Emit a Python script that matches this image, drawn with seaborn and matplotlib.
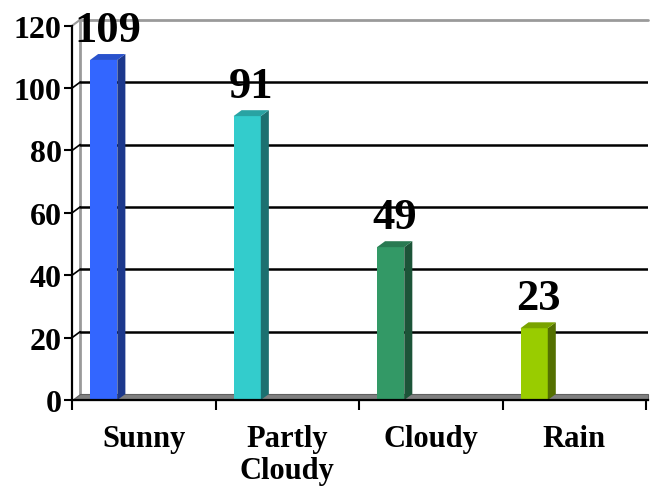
import matplotlib
matplotlib.use("Agg")
import matplotlib.pyplot as plt
import seaborn as sns
import pandas as pd
from matplotlib.patches import Polygon
from matplotlib.colors import to_rgb

# ===== DATA =====
CATEGORIES = ["Sunny", "Partly\nCloudy", "Cloudy", "Rain"]
COUNTS = [109, 91, 49, 23]
COLORS = ["#3366FF", "#33CCCC", "#339966", "#99CC00"]
Y_TICKS = [0, 20, 40, 60, 80, 100, 120]

# ===== 3D LOOK SETTINGS =====
DEPTH_X = 0.056   # depth offset in category units
DEPTH_Y = 1.9     # depth offset in value units
BAR_SHIFT = -0.28 # bars sit in the left part of each category
XMAX = 3.514


def shade(color, f):
    r, g, b = to_rgb(color)
    return (r * f, g * f, b * f)


sns.set_style("white")
plt.rcParams["font.family"] = ["Liberation Serif", "DejaVu Serif"]
plt.rcParams["font.weight"] = "bold"
plt.rcParams["text.color"] = "black"
plt.rcParams["xtick.color"] = "black"
plt.rcParams["ytick.color"] = "black"
plt.rcParams["xtick.labelcolor"] = "black"
plt.rcParams["ytick.labelcolor"] = "black"

fig = plt.figure(figsize=(6.5, 4.89), dpi=100)
ax = fig.add_axes([0.111, 0.18, 0.886, 0.791])

df = pd.DataFrame({"weather": CATEGORIES, "days": COUNTS})
sns.barplot(data=df, x="weather", y="days", hue="weather", palette=COLORS,
            width=0.19, saturation=1, legend=False, ax=ax, zorder=4)

ax.set_xlim(-0.5, XMAX)
ax.set_ylim(0, 124)

# floor
x_back = -0.5 + DEPTH_X
ax.add_patch(Polygon([(-0.5, 0), (XMAX, 0), (XMAX, DEPTH_Y), (x_back, DEPTH_Y)],
                     closed=True, facecolor="#808080", edgecolor="#606060",
                     lw=0.8, zorder=2, clip_on=False))

# back wall + gridlines
ax.plot([x_back, x_back], [DEPTH_Y, Y_TICKS[-1] + DEPTH_Y], color="#9a9a9a", lw=2, zorder=1)
ax.plot([x_back, XMAX], [Y_TICKS[-1] + DEPTH_Y] * 2, color="#9a9a9a", lw=2, zorder=1, clip_on=False)
ax.plot([-0.5, x_back], [Y_TICKS[-1], Y_TICKS[-1] + DEPTH_Y], color="#9a9a9a", lw=1.5, zorder=1)
for v in Y_TICKS[1:-1]:
    ax.plot([x_back, XMAX], [v + DEPTH_Y] * 2, color="black", lw=1.8, zorder=1)
    ax.plot([-0.5, x_back], [v, v + DEPTH_Y], color="black", lw=1.2, zorder=1)

# bars with side and top faces + value labels
for cont, color, val in zip(ax.containers, COLORS, COUNTS):
    for bar in cont:
        bar.set_x(bar.get_x() + BAR_SHIFT)
        bar.set_edgecolor("none")
        x0 = bar.get_x()
        x1 = x0 + bar.get_width()
        h = bar.get_height()
        ax.add_patch(Polygon([(x1, 0), (x1 + DEPTH_X, DEPTH_Y), (x1 + DEPTH_X, h + DEPTH_Y), (x1, h)],
                             closed=True, facecolor=shade(color, 0.55), edgecolor="none", zorder=4))
        ax.add_patch(Polygon([(x0, h), (x1, h), (x1 + DEPTH_X, h + DEPTH_Y), (x0 + DEPTH_X, h + DEPTH_Y)],
                             closed=True, facecolor=shade(color, 0.8), edgecolor="none", zorder=4))
        ax.annotate(f"{val}", ((x0 + x1 + DEPTH_X) / 2, h + DEPTH_Y), xytext=(0, 3),
                    textcoords="offset points", ha="center", va="bottom",
                    fontsize=32, fontweight="bold", color="black", zorder=6)

# axes styling
for s in ["top", "right"]:
    ax.spines[s].set_visible(False)
ax.spines["left"].set_bounds(0, Y_TICKS[-1])
for s in ["left", "bottom"]:
    ax.spines[s].set_linewidth(1.6)
    ax.spines[s].set_color("black")
    ax.spines[s].set_zorder(5)

ax.set_yticks(Y_TICKS)
ax.tick_params(axis="y", direction="out", length=6, width=1.5, pad=1.5,
               labelsize=23, left=True, colors="black")
ax.set_xticks([i - 0.5 for i in range(len(CATEGORIES) + 1)])
ax.set_xticklabels([])
ax.set_xticks(range(len(CATEGORIES)), minor=True)
ax.set_xticklabels(CATEGORIES, minor=True)
ax.tick_params(axis="x", which="major", direction="out", length=7, width=1.5,
               bottom=True, colors="black")
ax.tick_params(axis="x", which="minor", length=0, pad=17, labelsize=22, colors="black")
for lab in ax.get_xticklabels(minor=True):
    lab.set_linespacing(1.15)
    lab.set_fontweight("bold")
for lab in ax.get_yticklabels():
    lab.set_fontweight("bold")
ax.set_xlabel("")
ax.set_ylabel("")

fig.savefig("out.png", dpi=100)
